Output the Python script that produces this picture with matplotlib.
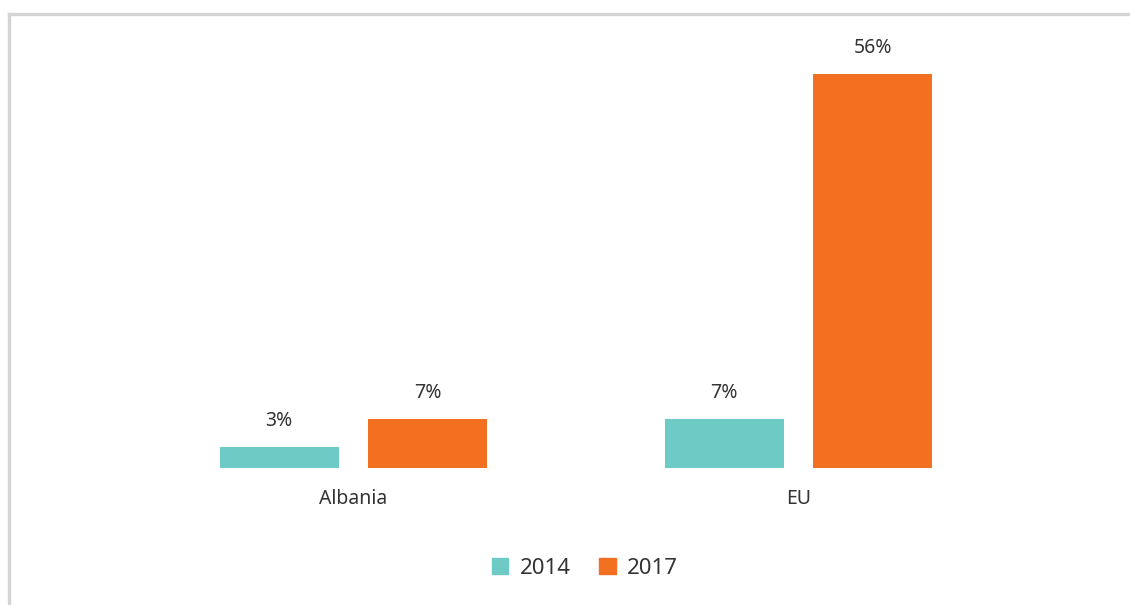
import matplotlib.pyplot as plt
import numpy as np
from matplotlib.patches import Patch
from matplotlib.lines import Line2D

categories = ['Albania', 'EU']
years = ['2014', '2017']
values_2014 = [3, 7]
values_2017 = [7, 56]
colors = ['#6ECAC4', '#F37021']

plt.rcParams['font.family'] = ['Noto Sans', 'DejaVu Sans']
text_color = '#333333'

fig = plt.figure(figsize=(11.3, 6.05), dpi=100)
W, H = 1130, 605
# axes: x from 131 to 1021 px, y baseline 468, top 46
ax = fig.add_axes([131 / W, (H - 468) / H, 890 / W, 422 / H])

x = np.arange(len(categories))
width = 0.267
offset = 0.167
bars1 = ax.bar(x - offset, values_2014, width, color=colors[0])
bars2 = ax.bar(x + offset, values_2017, width, color=colors[1])

for bars in (bars1, bars2):
    for b in bars:
        ax.annotate(f'{b.get_height():.0f}%',
                    (b.get_x() + b.get_width() / 2, b.get_height()),
                    xytext=(0, 11.5), textcoords='offset points',
                    ha='center', va='bottom', fontsize=14, color=text_color)

ax.set_xlim(-0.5, 1.5)
ax.set_ylim(0, 60)
ax.set_xticks(x)
ax.set_xticklabels(categories, fontsize=14, color=text_color)
ax.tick_params(axis='x', length=0, pad=15)
ax.set_yticks([])
for s in ax.spines.values():
    s.set_visible(False)

# outer frame (only top and left edges visible)
fig.add_artist(Line2D([9 / W, 1], [1 - 14 / H, 1 - 14 / H], color='#d4d4d4', lw=2.4,
                      transform=fig.transFigure))
fig.add_artist(Line2D([9 / W, 9 / W], [0, 1 - 14 / H], color='#d4d4d4', lw=2.4,
                      transform=fig.transFigure))

handles = [Patch(color=c, label=y) for c, y in zip(colors, years)]
fig.legend(handles=handles, loc='center', bbox_to_anchor=(585 / W, 1 - 568 / H),
           ncol=2, frameon=False, fontsize=16, handlelength=0.75, handleheight=0.75,
           handletextpad=0.5, columnspacing=1.3, labelcolor=text_color)

fig.savefig('out.png', dpi=100)
